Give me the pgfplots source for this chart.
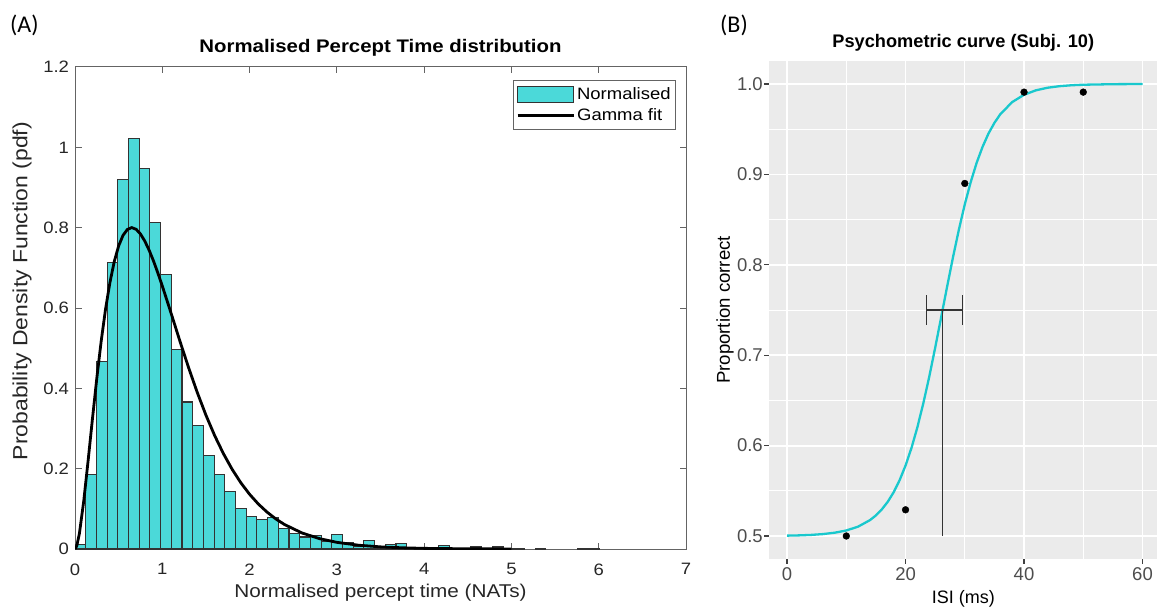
\documentclass[border=0pt]{standalone}
\usepackage{fontspec}
\setmainfont{Liberation Sans}
\newfontfamily\afont{Liberation Sans}[FakeStretch=1.12]
\newfontfamily\pfont{Carlito}
\usepackage{pgfplots}
\pgfplotsset{compat=1.18}
\definecolor{histcyan}{RGB}{75,217,217}
\definecolor{ggbg}{RGB}{235,235,235}
\definecolor{ggcurve}{RGB}{25,200,205}
\definecolor{ggtext}{RGB}{77,77,77}
\definecolor{mgray}{RGB}{100,100,100}
\begin{document}
\begin{tikzpicture}
\path[use as bounding box] (0,0) rectangle (1158pt,-607pt);
\node[anchor=west, inner sep=0pt] at (10pt,-25pt) {\pfont\fontsize{24}{28}\selectfont (A)};
\node[anchor=west, inner sep=0pt] at (720pt,-25pt) {\pfont\fontsize{24}{28}\selectfont (B)};

\begin{axis}[
 at={(75pt,-549pt)}, anchor=south west, scale only axis, width=611pt, height=482pt,
 xmin=0, xmax=7, ymin=0, ymax=1.2,
 xtick={0,1,2,3,4,5,6,7}, ytick={0,0.2,0.4,0.6,0.8,1,1.2},
 tick align=inside, major tick length=6.5pt,
 axis line style={mgray, line width=1pt}, tick style={mgray, line width=1pt},
 /pgf/number format/assume math mode=true,
 tick label style={font=\afont\fontsize{16.5}{18}\selectfont, text=black!85},
 yticklabel style={xshift=-2.5pt},
 xticklabel style={yshift=-11pt},
 title={Normalised Percept Time distribution},
 title style={font=\afont\bfseries\fontsize{18.2}{20}\selectfont, at={(axis description cs:0.5,1)}, anchor=base, yshift=8pt, inner sep=0pt},
 xlabel={Normalised percept time (NATs)},
 xlabel style={font=\afont\fontsize{18.5}{20}\selectfont, text=black!85, at={(axis description cs:0.5,-0.1)}, anchor=base, inner sep=0pt},
 ylabel={Probability Density Function (pdf)},
 ylabel style={font=\afont\fontsize{20.5}{22}\selectfont, text=black!85, at={(axis description cs:-0.0867,0.535)}, anchor=center, inner sep=0pt},
 legend style={at={(axis description cs:0.9836,0.973)}, anchor=north east, draw=mgray, line width=0.8pt,
   font=\afont\fontsize{16.5}{18}\selectfont, inner xsep=3pt, inner ysep=5pt, row sep=4pt},
 legend cell align=left,
]
\addplot[ybar, bar width=0.1226, bar shift=0pt, fill=histcyan, draw=black!80, line width=1.1pt,
  legend image code/.code={\draw[fill=histcyan, draw=black!80, line width=1.1pt] (0pt,-8pt) rectangle (56pt,8pt);}]
 coordinates {
 (0.0613,0.012) (0.1839,0.185) (0.3065,0.466) (0.4291,0.713) (0.5517,0.921)
 (0.6743,1.021) (0.7969,0.947) (0.9195,0.813) (1.0421,0.684) (1.1647,0.497)
 (1.2873,0.366) (1.4099,0.307) (1.5325,0.232) (1.6551,0.185) (1.7777,0.143)
 (1.9003,0.100) (2.0229,0.081) (2.1455,0.073) (2.2681,0.078) (2.3907,0.051)
 (2.5133,0.038) (2.6359,0.030) (2.7585,0.033) (2.8811,0.018) (3.0037,0.037)
 (3.1263,0.017) (3.2489,0.006) (3.3715,0.022) (3.4941,0.004) (3.6167,0.012)
 (3.7393,0.014) (3.8619,0.003) (3.9845,0.002) (4.1071,0.002) (4.2297,0.008)
 (4.3523,0.002) (4.4749,0.002) (4.5975,0.005) (4.7201,0.002) (4.8427,0.005)
 (4.9653,0.001) (5.0879,0.002) (5.3331,0.002) (5.8235,0.002) (5.9461,0.002)
 };
\addlegendentry{Normalised}
\addplot[black, line width=2.8pt, legend image code/.code={\draw[black, line width=2.8pt] (0pt,0pt) -- (56pt,0pt);}]
 coordinates {
 (0,0) (0.02,0.0075) (0.05,0.0379) (0.1,0.1191) (0.15,0.2193) (0.2,0.3243)
 (0.25,0.4255) (0.3,0.5174) (0.35,0.5973) (0.4,0.6634) (0.45,0.7158) (0.5,0.7546)
 (0.55,0.7808) (0.6,0.7955) (0.65,0.8002) (0.7,0.7960) (0.75,0.7843) (0.8,0.7665)
 (0.85,0.7436) (0.9,0.7168) (0.95,0.6868) (1.0,0.6550) (1.1,0.5876) (1.2,0.5189)
 (1.3,0.4524) (1.4,0.3902) (1.5,0.3333) (1.6,0.2824) (1.7,0.2376) (1.8,0.1985)
 (1.9,0.1649) (2.0,0.1363) (2.1,0.1121) (2.2,0.0919) (2.3,0.0750) (2.4,0.0610)
 (2.6,0.0400) (2.8,0.0259) (3.0,0.0166) (3.25,0.0094) (3.5,0.0053) (3.75,0.0030)
 (4.0,0.0016) (4.5,0.0005) (5.0,0.0001)
 };
\addlegendentry{Gamma fit}
\end{axis}

\begin{axis}[
 at={(769.3pt,-558.6pt)}, anchor=south west, scale only axis, width=388pt, height=497.2pt,
 xmin=-3, xmax=62.5, ymin=0.475, ymax=1.025,
 xtick={0,20,40,60}, ytick={0.5,0.6,0.7,0.8,0.9,1.0},
 minor xtick={10,30,50}, minor ytick={0.55,0.65,0.75,0.85,0.95},
 grid=both, major grid style={white, line width=1.8pt}, minor grid style={white, line width=0.9pt},
 axis background/.style={fill=ggbg},
 axis line style={draw=none}, tick pos=left,
 tick align=outside, major tick length=5pt, minor tick length=0pt,
 major tick style={black!75, line width=1.2pt},
 /pgf/number format/assume math mode=true,
 tick label style={font=\fontsize{18.5}{20}\selectfont, text=ggtext},
 yticklabel style={/pgf/number format/fixed, /pgf/number format/fixed zerofill, /pgf/number format/precision=1, xshift=2pt},
 title={Psychometric curve (Subj. 10)},
 title style={font=\bfseries\fontsize{18.2}{20}\selectfont, at={(axis description cs:0.5,1)}, anchor=base, yshift=7.5pt, inner sep=0pt},
 xlabel={ISI (ms)},
 xlabel style={font=\fontsize{18}{20}\selectfont, at={(axis description cs:0.5,-0.0893)}, anchor=base, inner sep=0pt},
 ylabel={Proportion correct},
 ylabel style={font=\fontsize{18.6}{20}\selectfont, at={(axis description cs:-0.114,0.5)}, anchor=center, inner sep=0pt},
]
\addplot[ggcurve, line width=2.3pt] coordinates {
 (0,0.5004) (2,0.5007) (4,0.5012) (6,0.5021) (8,0.5036) (10,0.5061) (12,0.5104)
 (14,0.5176) (15,0.5228) (16,0.5295) (17,0.5379) (18,0.5485) (19,0.5618) (20,0.5780)
 (21,0.5974) (22,0.6204) (23,0.6468) (24,0.6762) (25,0.7082) (26,0.7416) (27,0.7753)
 (28,0.8081) (29,0.8388) (30,0.8669) (31,0.8915) (32,0.9128) (33,0.9305) (34,0.9452)
 (35,0.9570) (36,0.9666) (38,0.9800) (40,0.9881) (42,0.9930) (44,0.9959) (46,0.9976)
 (48,0.9986) (50,0.9992) (55,0.9998) (60,1.0000)
};
\addplot[only marks, mark=*, mark size=3.4pt, black] coordinates {
 (10,0.500) (20,0.529) (30,0.890) (40,0.991) (50,0.991)
};
\addplot[black!80, line width=1.4pt] coordinates {(26.24,0.5) (26.24,0.75)};
\addplot[black!80, line width=1.4pt] coordinates {(23.54,0.75) (29.62,0.75)};
\addplot[black!80, line width=1.4pt] coordinates {(23.54,0.7335) (23.54,0.7665)};
\addplot[black!80, line width=1.4pt] coordinates {(29.62,0.7335) (29.62,0.7665)};
\end{axis}
\end{tikzpicture}
\end{document}
